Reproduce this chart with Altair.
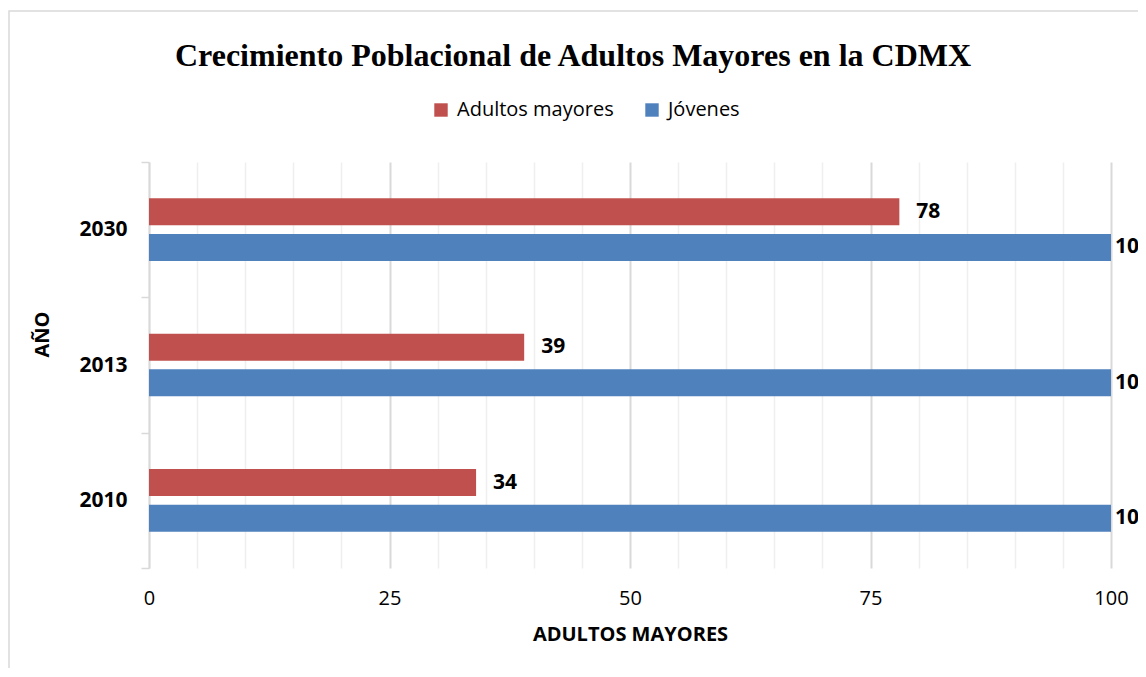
import altair as alt
import pandas as pd

years = ["2030", "2013", "2010"]
series = ["Adultos mayores", "Jóvenes"]
adultos = [78, 39, 34]
jovenes = [100, 100, 100]
colors = ["#C0504D", "#4F81BD"]
grid_values = list(range(0, 101, 5))

rows = []
for i, yr in enumerate(years):
    rows.append({"year": yr, "serie": series[0], "value": adultos[i]})
    rows.append({"year": yr, "serie": series[1], "value": jovenes[i]})
df = pd.DataFrame(rows)

FONT = "Open Sans"
W, H = 962, 406

x_scale = alt.Scale(domain=[0, 100], nice=False)
y_scale = alt.Scale(domain=years, paddingInner=0, paddingOuter=0)
off_scale = alt.Scale(domain=series, paddingInner=0.2, paddingOuter=1)
color_scale = alt.Scale(domain=series, range=colors)

x_enc = alt.X(
    "value:Q", scale=x_scale,
    axis=alt.Axis(
        values=grid_values,
        labelExpr="datum.value % 25 === 0 ? datum.label : ''",
        labelFlush=False,
        grid=True,
        gridColor={"condition": {"test": "datum.value % 25 === 0", "value": "#D9D9D9"}, "value": "#EFEFEF"},
        gridWidth={"condition": {"test": "datum.value % 25 === 0", "value": 2}, "value": 1.5},
        domain=False, ticks=False,
        labelFont=FONT, labelFontSize=20, labelColor="black", labelPadding=20,
        title="ADULTOS MAYORES", titleFont=FONT, titleFontSize=20, titleFontWeight="bold",
        titleColor="black", titlePadding=16,
    ),
)
y_enc = alt.Y(
    "year:N", scale=y_scale, sort=years,
    axis=alt.Axis(
        tickBand="extent", grid=False,
        domain=True, domainColor="#D9D9D9", domainWidth=1.5,
        ticks=True, tickColor="#D9D9D9", tickSize=8, tickWidth=1.5,
        labelFont=FONT, labelFontSize=21, labelFontWeight="bold", labelColor="black", labelPadding=14,
        title="AÑO", titleFont=FONT, titleFontSize=20, titleFontWeight="bold", titleColor="black",
        titleAngle=270, titleAlign="center", titleBaseline="alphabetic",
        titleX=-101, titleY=172,
    ),
)
yoff = alt.YOffset("serie:N", scale=off_scale, sort=series)

base = alt.Chart(df)

frame = alt.Chart(pd.DataFrame({"k": [0]})).mark_rect(
    fill=None, stroke="#D9D9D9", strokeWidth=1.5
).encode(
    x=alt.value(-140), x2=alt.value(1000), y=alt.value(-151), y2=alt.value(700)
)

bars = base.mark_bar(height=27).encode(
    x=x_enc, y=y_enc, yOffset=yoff,
    color=alt.Color(
        "serie:N", scale=color_scale, sort=series,
        legend=alt.Legend(
            orient="none", legendX=282, legendY=-62, direction="horizontal", title=None,
            symbolType="square", symbolSize=180, symbolStrokeWidth=0,
            labelFont=FONT, labelFontSize=20, labelColor="black", labelOffset=6,
            columnPadding=28,
        ),
    ),
)

lbl_style = dict(align="left", baseline="middle", font=FONT, fontSize=21, fontWeight="bold", color="black")
labels_in = base.transform_filter("datum.value < 100").mark_text(dx=17, **lbl_style).encode(
    x=alt.X("value:Q", scale=x_scale), y=alt.Y("year:N", scale=y_scale, sort=years), yOffset=yoff,
    text=alt.Text("value:Q"),
)
labels_end = base.transform_filter("datum.value >= 100").mark_text(dx=4, **lbl_style).encode(
    x=alt.X("value:Q", scale=x_scale), y=alt.Y("year:N", scale=y_scale, sort=years), yOffset=yoff,
    text=alt.Text("value:Q"),
)

chart = alt.layer(frame, bars, labels_in, labels_end).properties(
    width=W, height=H,
    padding={"left": 141, "top": 154, "right": 27, "bottom": 100},
    autosize=alt.AutoSizeParams(type="none"),
    title=alt.TitleParams(
        "Crecimiento Poblacional de Adultos Mayores en la CDMX",
        font="Liberation Serif", fontSize=32, fontWeight="bold", color="black",
        anchor="middle", frame="group", dx=-57, offset=-63,
    ),
).configure_view(stroke=None)

chart.save("out.html", embed_options={"renderer": "svg", "actions": False})
